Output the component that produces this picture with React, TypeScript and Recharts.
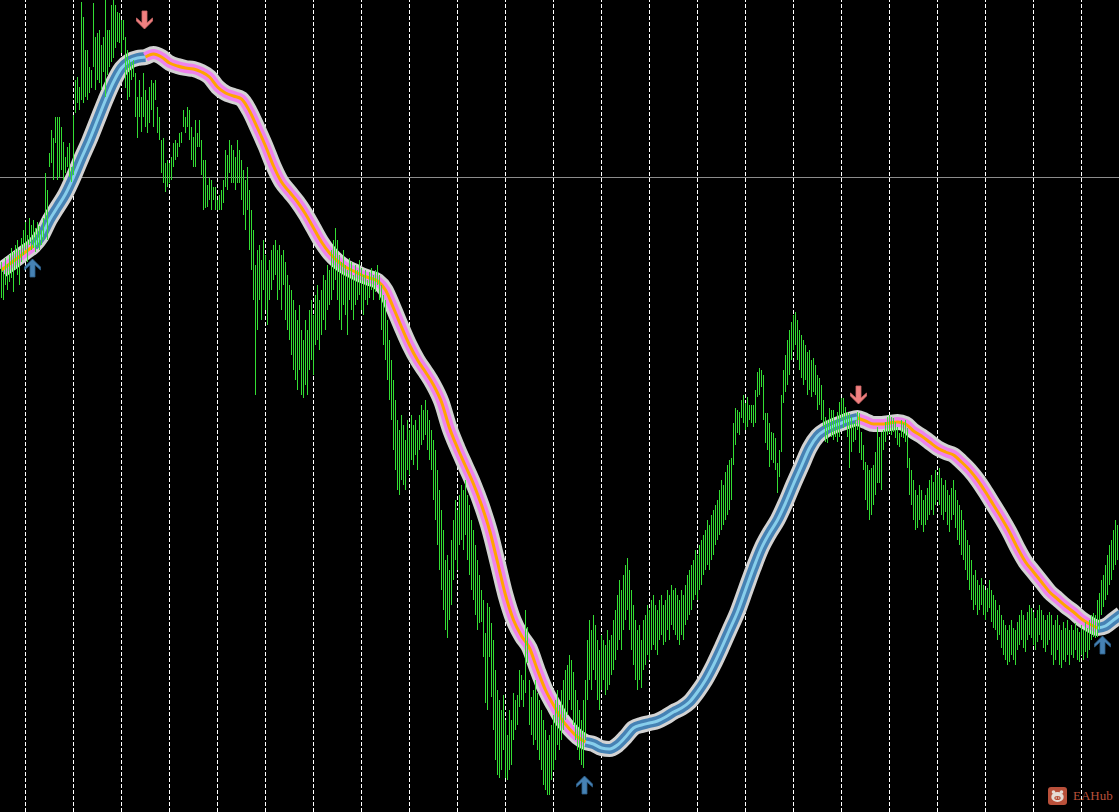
import { ComposedChart, Bar, Line, Scatter, XAxis, YAxis, ReferenceLine } from "recharts";

// price bars, one per 2px column (values in points)
const highs = [
  738, 730, 742, 736, 745, 752, 748, 755, 760, 750, 762, 770, 778, 765, 782, 775, 780, 772, 778, 774, 770, 782, 827, 810,
  847, 870, 862, 883, 883, 883, 873, 858, 843, 853, 857, 833, 885, 920, 923, 913, 998, 983, 950, 950, 933, 930, 997, 963,
  967, 970, 955, 963, 1000, 970, 970, 995, 1000, 995, 988, 987, 980, 980, 963, 950, 940, 938, 940, 927, 903, 920, 903, 927,
  910, 900, 913, 920, 917, 920, 893, 883, 860, 862, 837, 840, 837, 843, 857, 860, 857, 867, 868, 890, 883, 893, 890, 873,
  863, 880, 867, 880, 860, 840, 840, 815, 822, 820, 813, 813, 800, 805, 810, 820, 850, 845, 860, 855, 850, 843, 860, 850,
  840, 830, 820, 833, 810, 790, 770, 735, 750, 755, 740, 760, 745, 730, 740, 750, 755, 760, 750, 755, 745, 750, 738, 725,
  715, 710, 700, 690, 680, 695, 670, 660, 680, 670, 690, 700, 685, 705, 715, 700, 710, 725, 720, 735, 730, 750, 760, 772,
  760, 745, 738, 750, 735, 730, 742, 738, 725, 735, 730, 740, 732, 725, 730, 720, 728, 732, 725, 730, 735, 725, 715, 705,
  700, 680, 660, 640, 620, 600, 580, 570, 585, 575, 560, 580, 570, 585, 575, 580, 570, 585, 595, 590, 600, 590, 580, 570,
  560, 550, 530, 510, 490, 470, 440, 445, 430, 460, 480, 500, 490, 505, 515, 510, 520, 505, 495, 480, 470, 455, 440, 425,
  410, 400, 367, 397, 393, 377, 360, 330, 310, 300, 290, 305, 280, 265, 290, 280, 307, 300, 305, 330, 325, 320, 390, 373,
  320, 303, 310, 320, 307, 300, 290, 280, 270, 260, 265, 275, 285, 300, 310, 295, 310, 320, 330, 335, 345, 340, 328, 310,
  300, 290, 280, 300, 320, 360, 380, 370, 385, 375, 360, 350, 365, 360, 355, 370, 360, 365, 380, 390, 405, 420, 410, 425,
  435, 442, 430, 410, 395, 380, 370, 375, 360, 380, 385, 395, 390, 400, 405, 395, 390, 400, 405, 395, 400, 410, 405, 415,
  410, 412, 405, 400, 410, 405, 415, 425, 430, 435, 440, 450, 445, 455, 460, 465, 470, 480, 475, 485, 490, 495, 500, 510,
  520, 515, 528, 535, 540, 542, 577, 592, 590, 588, 600, 605, 597, 603, 595, 595, 595, 610, 628, 632, 630, 625, 587, 587,
  577, 568, 567, 562, 537, 550, 605, 630, 645, 660, 670, 678, 685, 688, 680, 670, 665, 660, 655, 648, 650, 640, 642, 635,
  625, 622, 615, 600, 583, 580, 592, 590, 590, 580, 588, 598, 602, 602, 593, 588, 587, 583, 577, 580, 588, 587, 568, 555,
  538, 535, 530, 532, 535, 548, 573, 563, 568, 570, 578, 583, 585, 583, 582, 578, 573, 567, 580, 577, 580, 572, 542, 530,
  520, 510, 505, 515, 510, 500, 505, 512, 520, 525, 518, 530, 525, 532, 522, 515, 520, 510, 505, 512, 520, 510, 500, 495,
  490, 480, 470, 460, 455, 440, 425, 430, 420, 415, 422, 415, 410, 412, 420, 410, 405, 400, 390, 395, 385, 380, 375, 370,
  375, 380, 372, 370, 378, 385, 390, 385, 380, 388, 395, 392, 388, 382, 390, 395, 390, 385, 380, 385, 388, 385, 375, 380,
  385, 375, 370, 378, 372, 380, 370, 375, 370, 377, 372, 368, 375, 370, 378, 372, 380, 385, 387, 385, 400, 407, 420, 425,
  435, 445, 455, 460, 470, 480, 475, 472,
];

const lows = [
  702, 700, 715, 710, 718, 722, 708, 730, 725, 715, 738, 745, 750, 738, 755, 750, 752, 748, 753, 750, 755, 760, 780, 760,
  833, 837, 820, 857, 820, 823, 830, 820, 827, 833, 823, 818, 825, 887, 897, 890, 900, 897, 903, 900, 907, 912, 933, 910,
  920, 917, 910, 928, 903, 925, 933, 938, 942, 952, 958, 957, 947, 960, 912, 900, 903, 920, 923, 883, 862, 883, 868, 883,
  873, 867, 877, 890, 873, 900, 867, 860, 827, 817, 808, 813, 817, 820, 833, 840, 843, 853, 857, 873, 867, 873, 860, 840,
  833, 833, 853, 853, 825, 790, 792, 793, 800, 790, 800, 790, 790, 790, 790, 797, 813, 810, 827, 817, 817, 810, 817, 817,
  800, 785, 770, 790, 750, 730, 700, 605, 670, 700, 680, 710, 690, 675, 700, 710, 720, 725, 700, 710, 690, 715, 680, 670,
  660, 645, 630, 620, 610, 630, 605, 602, 615, 605, 630, 640, 625, 655, 660, 650, 665, 680, 670, 690, 695, 700, 710, 720,
  700, 680, 670, 695, 685, 665, 700, 690, 680, 695, 700, 705, 690, 685, 700, 695, 702, 710, 700, 708, 715, 700, 670, 655,
  640, 620, 600, 580, 550, 530, 510, 505, 520, 515, 510, 530, 525, 540, 535, 545, 530, 550, 555, 560, 565, 550, 540, 530,
  500, 480, 455, 430, 410, 390, 370, 362, 380, 395, 420, 440, 430, 455, 460, 450, 465, 440, 425, 410, 400, 385, 370, 377,
  378, 343, 297, 290, 343, 303, 270, 240, 225, 222, 230, 250, 222, 220, 230, 235, 260, 270, 275, 293, 300, 293, 307, 337,
  275, 265, 255, 260, 250, 240, 230, 215, 210, 205, 205, 220, 230, 240, 255, 250, 260, 270, 280, 285, 300, 290, 275, 260,
  250, 240, 235, 232, 260, 300, 320, 310, 330, 320, 300, 290, 310, 320, 305, 310, 315, 325, 330, 340, 350, 360, 350, 370,
  380, 390, 370, 350, 335, 320, 310, 320, 312, 330, 335, 345, 340, 350, 355, 350, 345, 360, 365, 355, 358, 370, 360, 375,
  370, 365, 360, 355, 365, 360, 375, 380, 385, 390, 400, 405, 400, 410, 415, 425, 430, 435, 430, 440, 445, 455, 460, 465,
  470, 475, 480, 485, 490, 500, 535, 555, 567, 565, 582, 577, 570, 573, 580, 577, 573, 577, 603, 605, 613, 580, 557, 550,
  533, 540, 537, 530, 507, 523, 548, 597, 608, 615, 625, 640, 650, 655, 640, 630, 622, 615, 620, 605, 610, 603, 608, 605,
  590, 595, 580, 573, 558, 557, 570, 563, 560, 563, 558, 563, 580, 572, 577, 563, 532, 548, 558, 560, 570, 547, 540, 530,
  500, 490, 480, 485, 495, 505, 517, 517, 510, 550, 558, 565, 567, 565, 568, 562, 555, 553, 563, 562, 558, 532, 505, 495,
  480, 470, 472, 480, 475, 468, 475, 480, 485, 490, 485, 495, 500, 495, 485, 480, 488, 475, 468, 480, 485, 472, 460, 455,
  445, 440, 430, 420, 410, 400, 390, 395, 385, 390, 395, 385, 380, 388, 392, 378, 372, 370, 360, 365, 352, 345, 340, 335,
  338, 345, 340, 335, 350, 355, 360, 352, 348, 360, 365, 362, 355, 350, 358, 365, 360, 352, 348, 355, 360, 345, 335, 340,
  350, 335, 332, 340, 338, 345, 335, 345, 342, 350, 340, 338, 345, 340, 348, 342, 350, 360, 363, 362, 363, 370, 385, 393,
  400, 405, 415, 420, 430, 435, 440, 435,
];

// moving average, sampled every MA_STEP bars
const MA_STEP = 4;
const maValues = [
  730, 736, 742, 748, 754, 764, 780, 793, 806, 823, 842, 860, 880, 900, 918, 932, 939, 942, 943, 946,
  943, 937, 934, 932, 931, 928, 923, 913, 907, 904, 901, 889, 872, 854, 834, 818, 808, 798, 786, 772,
  758, 747, 739, 733, 729, 725, 722, 719, 710, 692, 673, 655, 640, 628, 615, 598, 572, 552, 534, 516,
  495, 470, 438, 405, 380, 364, 352, 330, 310, 295, 281, 271, 263, 258, 256, 252, 251, 255, 263, 272,
  275, 277, 279, 283, 288, 292, 298, 308, 320, 335, 352, 370, 388, 410, 432, 452, 467, 480, 497, 516,
  534, 552, 564, 570, 574, 577, 580, 582, 579, 576, 576, 577, 578, 576, 569, 564, 558, 552, 548, 545,
  538, 530, 520, 508, 495, 482, 468, 452, 438, 428, 418, 408, 401, 394, 388, 381, 376, 372, 374, 380,
  386,
];
// trend changes (index into maValues)
const trendStarts = [0, 4, 18, 73, 107, 137];
const trendDirs = ["down", "up", "down", "up", "down", "up"];

const upArrows = [
  { i: 15.5, v: 732 },
  { i: 291.5, v: 215 },
  { i: 550.5, v: 355 },
];
const downArrows = [
  { i: 71.5, v: 980 },
  { i: 428.5, v: 605 },
];

const gridBars = [12, 36, 60, 84, 108, 132, 156, 180, 204, 228, 252, 276, 300, 324, 348, 372, 396, 420, 444, 468, 492, 516, 540];
const priceLine = 822.5;

const COLORS: Record<string, { main: string; core: string }> = {
  up: { main: "#4682b4", core: "#87ceeb" },
  down: { main: "#ee82ee", core: "#ffa500" },
};

const bars = highs.map((h, i) => ({ i, range: [lows[i], h] }));
const maPoints = maValues.map((v, k) => ({ i: k * MA_STEP, v }));
const segments = trendStarts.map((s, n) => {
  const end = n + 1 < trendStarts.length ? trendStarts[n + 1] : maPoints.length - 1;
  return { dir: trendDirs[n], points: maPoints.slice(s, end + 1) };
});

const PriceBar = (props: any) => {
  const { x, y, width, height } = props;
  const cx = Math.floor(x + width / 2) + 0.5;
  return <line x1={cx} x2={cx} y1={y} y2={y + height} stroke="#33dd33" strokeWidth={1} />;
};

const ArrowMark = (props: any) => {
  const { cx, cy, up } = props;
  const s = up ? 1 : -1;
  const pts = [
    [0, -9], [8, -1], [8, 2], [2.5, -3], [2.5, 9], [-2.5, 9], [-2.5, -3], [-8, 2], [-8, -1],
  ];
  const d = pts.map(([px, py], n) => `${n ? "L" : "M"}${cx + px},${cy + s * py}`).join(" ") + " Z";
  return (
    <path
      d={d}
      fill={up ? "#4682b4" : "#f08080"}
      stroke={up ? "#2d5f8c" : "#d06a6a"}
      strokeWidth={0.8}
    />
  );
};

export default function App() {
  return (
    <div
      style={{
        position: "absolute",
        left: 0,
        top: 0,
        width: 1119,
        height: 812,
        background: "#000",
        overflow: "hidden",
      }}
    >
      <ComposedChart width={1119} height={812} data={bars} margin={{ top: 0, right: 0, bottom: 0, left: 0 }}>
        <XAxis dataKey="i" type="number" domain={[-0.75, 558.75]} hide allowDataOverflow />
        <YAxis type="number" domain={[188, 1000]} hide allowDataOverflow />
        {gridBars.map((g) => (
          <ReferenceLine key={g} x={g} stroke="#ffffff" strokeWidth={1} strokeDasharray="4 2" zIndex={10} />
        ))}
        <ReferenceLine y={priceLine} stroke="#8c8c8c" strokeWidth={1} zIndex={10} />
        <Line
          data={maPoints}
          dataKey="v"
          type="monotone"
          stroke="#d3d3d3"
          strokeWidth={16}
          strokeLinejoin="round"
          dot={false}
          activeDot={false}
          isAnimationActive={false}
          zIndex={20}
        />
        {segments.map((seg, n) => (
          <Line
            key={`m${n}`}
            data={seg.points}
            dataKey="v"
            type="monotone"
            stroke={COLORS[seg.dir].main}
            strokeWidth={10}
            strokeLinejoin="round"
            dot={false}
            activeDot={false}
            isAnimationActive={false}
            zIndex={21}
          />
        ))}
        {segments.map((seg, n) => (
          <Line
            key={`c${n}`}
            data={seg.points}
            dataKey="v"
            type="monotone"
            stroke={COLORS[seg.dir].core}
            strokeWidth={3}
            strokeLinejoin="round"
            dot={false}
            activeDot={false}
            isAnimationActive={false}
            zIndex={22}
          />
        ))}
        <Bar dataKey="range" barSize={1} shape={PriceBar} isAnimationActive={false} zIndex={30} />
        <Scatter
          data={upArrows}
          dataKey="v"
          shape={(p: any) => <ArrowMark cx={p.cx} cy={p.cy} up />}
          isAnimationActive={false}
          zIndex={40}
        />
        <Scatter
          data={downArrows}
          dataKey="v"
          shape={(p: any) => <ArrowMark cx={p.cx} cy={p.cy} up={false} />}
          isAnimationActive={false}
          zIndex={40}
        />
      </ComposedChart>
      <svg
        width={19}
        height={18}
        style={{ position: "absolute", left: 1048, top: 787 }}
      >
        <rect x={0} y={0} width={19} height={18} rx={3} fill="#b9503a" />
        <circle cx={5.5} cy={5} r={1.8} fill="#e6dcd6" />
        <circle cx={13.5} cy={5} r={1.8} fill="#e6dcd6" />
        <ellipse cx={9.5} cy={10} rx={6.2} ry={5} fill="#e6dcd6" />
        <ellipse cx={9.5} cy={11} rx={3.2} ry={2} fill="#b9503a" />
        <circle cx={8.3} cy={11} r={0.7} fill="#e6dcd6" />
        <circle cx={10.7} cy={11} r={0.7} fill="#e6dcd6" />
      </svg>
      <span
        style={{
          position: "absolute",
          left: 1073,
          top: 788,
          fontFamily: "'Liberation Serif', serif",
          fontSize: 13,
          lineHeight: "16px",
          color: "#b9503a",
          whiteSpace: "nowrap",
        }}
      >
        EAHub
      </span>
    </div>
  );
}
